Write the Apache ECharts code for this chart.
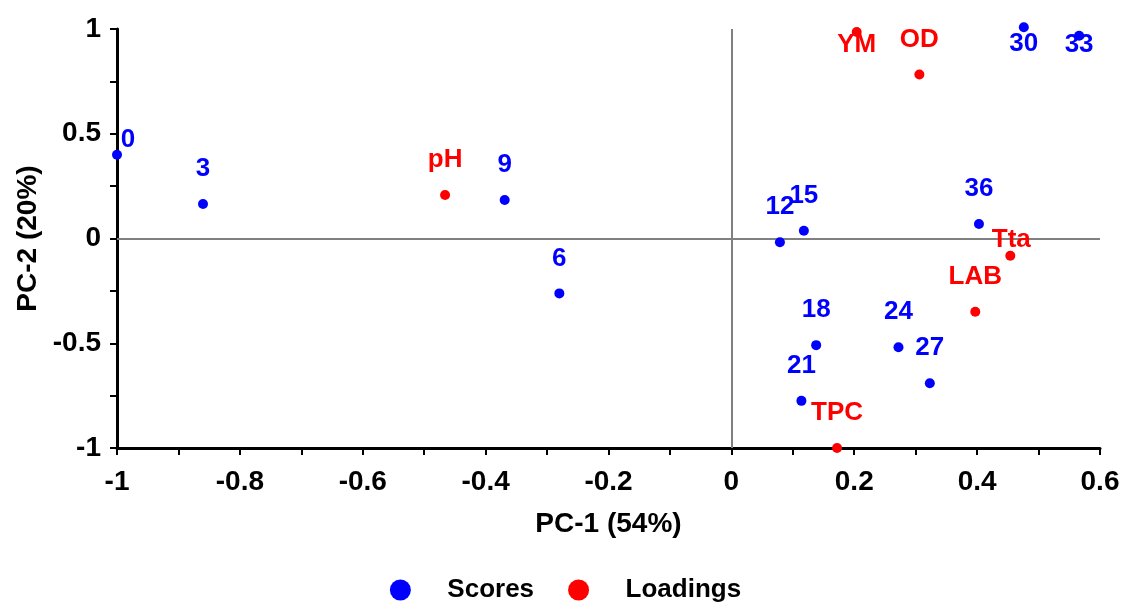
<!DOCTYPE html>
<html>
<head>
<meta charset="utf-8">
<script src="https://cdn.jsdelivr.net/npm/echarts@6/dist/echarts.min.js"></script>
<style>
  html, body { margin: 0; padding: 0; background: #fff; }
  #chart { width: 1131px; height: 608px; }
</style>
</head>
<body>
<div id="chart"></div>
<script>
// PCA biplot: scores (storage days) and loadings (variables)
var scoreNames = ['0', '3', '6', '9', '12', '15', '18', '21', '24', '27', '30', '33', '36'];
var scoreX = [-1.0, -0.860, -0.280, -0.369, 0.079, 0.118, 0.138, 0.114, 0.272, 0.323, 0.476, 0.566, 0.403];
var scoreY = [0.40, 0.165, -0.262, 0.184, -0.018, 0.037, -0.509, -0.775, -0.519, -0.691, 1.008, 0.968, 0.069];

var loadNames = ['pH', 'YM', 'OD', 'Tta', 'LAB', 'TPC'];
var loadX = [-0.466, 0.204, 0.306, 0.454, 0.397, 0.172];
var loadY = [0.208, 0.986, 0.783, -0.082, -0.350, -1.0];

var xTicks = { min: -1, max: 0.6, step: 0.2 };
var yTicks = { min: -1, max: 1, step: 0.5 };

// label placement (px offset from point centre), default is above the point
var labelShift = {
  '0': [11, -15], '30': [0, 17], '33': [0, 9], 'YM': [0, 13], 'Tta': [1, -16]
};

var FONT = '"Liberation Sans", Arial, sans-serif';

function buildPoints(names, xs, ys) {
  return names.map(function (n, i) {
    var p = { name: n, value: [xs[i], ys[i]] };
    if (labelShift[n]) p.label = { offset: labelShift[n] };
    return p;
  });
}

var myChart = echarts.init(document.getElementById('chart'));

var axisCommon = {
  type: 'value',
  axisLine: { show: true, onZero: false, lineStyle: { color: '#000', width: 3 } },
  axisTick: { show: true, length: 7, lineStyle: { color: '#000', width: 2 } },
  minorTick: { show: true, splitNumber: 2, length: 7, lineStyle: { color: '#000', width: 2 } },
  splitLine: { show: false },
  axisLabel: { color: '#000', fontSize: 28, fontWeight: 'bold', fontFamily: FONT },
  nameTextStyle: { color: '#000', fontSize: 28, fontWeight: 'bold', fontFamily: FONT }
};

myChart.setOption({
  backgroundColor: '#fff',
  animation: false,
  grid: { left: 117, right: 31, top: 29, bottom: 160, containLabel: false },
  legend: {
    left: 'center',
    top: 572,
    icon: 'circle',
    itemWidth: 84,
    itemHeight: 21,
    itemGap: 34,
    textStyle: { color: '#000', fontSize: 26, fontWeight: 'bold', fontFamily: FONT },
    data: ['Scores', 'Loadings']
  },
  xAxis: Object.assign({}, axisCommon, {
    min: xTicks.min, max: xTicks.max, interval: xTicks.step,
    name: 'PC-1 (54%)', nameLocation: 'middle', nameGap: 62,
    axisLabel: Object.assign({}, axisCommon.axisLabel, { margin: 20 })
  }),
  yAxis: Object.assign({}, axisCommon, {
    min: yTicks.min, max: yTicks.max, interval: yTicks.step,
    name: 'PC-2 (20%)', nameLocation: 'middle', nameGap: 74,
    axisLabel: Object.assign({}, axisCommon.axisLabel, { margin: 16 })
  }),
  series: [{
    type: 'scatter',
    name: 'Scores',
    symbolSize: 10,
    clip: false,
    z: 3,
    itemStyle: { color: '#0000ff', opacity: 1 },
    label: {
      show: true, position: 'inside', offset: [0, -35],
      formatter: '{b}', color: '#0000ff',
      fontSize: 26, fontWeight: 'bold', fontFamily: FONT
    },
    data: buildPoints(scoreNames, scoreX, scoreY),
    markLine: { // zero lines
      silent: true,
      symbol: 'none',
      label: { show: false },
      lineStyle: { color: '#808080', width: 2, type: 'solid', opacity: 1 },
      z: 1,
      data: [{ xAxis: 0 }, { yAxis: 0 }]
    }
  }, {
    type: 'scatter',
    name: 'Loadings',
    symbolSize: 10,
    clip: false,
    z: 3,
    itemStyle: { color: '#ff0000', opacity: 1 },
    label: {
      show: true, position: 'inside', offset: [0, -35],
      formatter: '{b}', color: '#ff0000',
      fontSize: 26, fontWeight: 'bold', fontFamily: FONT
    },
    data: buildPoints(loadNames, loadX, loadY)
  }]
});
</script>
</body>
</html>
